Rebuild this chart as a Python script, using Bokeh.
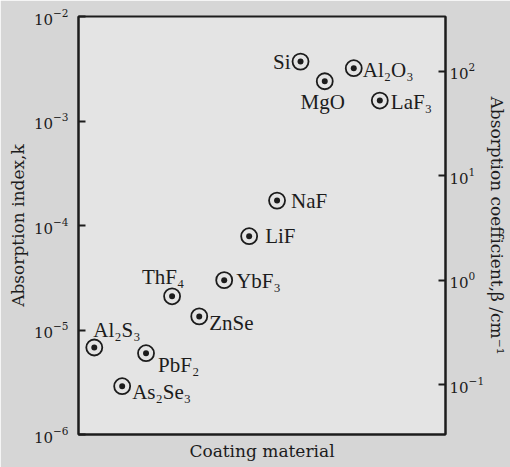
import math
from bokeh.plotting import figure
from bokeh.models import Range1d, LogAxis, FixedTicker, LogScale, ColumnDataSource
from bokeh.embed import file_html
from bokeh.resources import INLINE
from bokeh.core.properties import value

# ---- data ----
materials = ["Si", "Al₂O₃", "MgO", "LaF₃", "NaF", "LiF", "YbF₃",
             "ThF₄", "ZnSe", "Al₂S₃", "PbF₂", "As₂Se₃"]
x_pos = [6.05, 7.50, 6.71, 8.21, 5.41, 4.65, 3.97, 2.55, 3.29, 0.43, 1.84, 1.19]
k_values = [3.7e-3, 3.2e-3, 2.4e-3, 1.57e-3, 1.73e-4, 7.9e-5, 3.0e-5,
            2.1e-5, 1.35e-5, 6.8e-6, 6.0e-6, 2.9e-6]
k_ticks = [1e-6, 1e-5, 1e-4, 1e-3, 1e-2]
beta_ticks = [1e-1, 1e0, 1e1, 1e2]
k_min, k_max = 1e-6, 1e-2
beta_per_k = 10 ** 4.526  # beta = 4*pi*k/lambda

# ---- label layout (screen px offsets, alignment) ----
label_layout = {
    "Si": (-10, 0, "right"),
    "Al₂O₃": (9, 2, "left"),
    "MgO": (-2, 21, "center"),
    "LaF₃": (11, 1, "left"),
    "NaF": (14, 0, "left"),
    "LiF": (16, 0, "left"),
    "YbF₃": (12, 1, "left"),
    "ThF₄": (-9, -19, "center"),
    "ZnSe": (10, 7, "left"),
    "Al₂S₃": (-1, -18, "left"),
    "PbF₂": (12, 12, "left"),
    "As₂Se₃": (10, 6, "left"),
}

INK = "#1c1c1c"
FONT = "Liberation Serif"
VFONT = "DejaVu Serif"

p = figure(width=510, height=467,
           x_range=Range1d(0, 10), y_range=Range1d(k_min, k_max),
           y_axis_type="log", output_backend="svg", toolbar_location=None,
           min_border_left=78, min_border_right=64,
           min_border_top=16, min_border_bottom=33)
p.border_fill_color = "#d6d6d6"
p.background_fill_color = "#e4e4e4"
p.outline_line_color = INK
p.outline_line_width = 2
p.grid.visible = False

p.extra_y_ranges = {"beta": Range1d(k_min * beta_per_k, k_max * beta_per_k)}
p.extra_y_scales = {"beta": LogScale()}
right = LogAxis(y_range_name="beta", ticker=FixedTicker(ticks=beta_ticks))
p.add_layout(right, "right")

left = p.left[0]
left.ticker = FixedTicker(ticks=k_ticks)
left.axis_label = "Absorption index,k"
right.axis_label = "Absorption coefficient,β /cm⁻¹"
right.axis_label_orientation = "vertical"

for ax in (left, right):
    ax.major_tick_in = 7
    ax.major_tick_out = 0
    ax.minor_tick_line_color = None
    ax.major_tick_line_width = 2
    ax.major_tick_line_color = INK
    ax.axis_line_color = INK
    ax.axis_line_width = 2
    ax.major_label_text_font = VFONT
    ax.major_label_text_font_size = "15px"
    ax.major_label_text_color = INK
    ax.axis_label_text_font = VFONT
    ax.axis_label_text_font_size = "17px"
    ax.axis_label_text_font_style = "normal"
    ax.axis_label_text_color = INK
left.major_label_standoff = 10
left.axis_label_standoff = 3
right.major_label_standoff = 4
right.axis_label_standoff = 0

xa = p.below[0]
xa.ticker = FixedTicker(ticks=[])
xa.axis_line_color = INK
xa.axis_line_width = 2
xa.axis_label = "Coating material"
xa.axis_label_text_font = VFONT
xa.axis_label_text_font_size = "17px"
xa.axis_label_text_font_style = "normal"
xa.axis_label_text_color = INK
xa.axis_label_standoff = 6

src = ColumnDataSource(dict(x=x_pos, k=k_values, name=materials))
p.scatter("x", "k", source=src, size=16, marker="circle",
          fill_color=None, line_color=INK, line_width=1.8)
p.scatter("x", "k", source=src, size=6, marker="circle",
          fill_color=INK, line_color=None)

for align in ("left", "right", "center"):
    idx = [i for i, m in enumerate(materials) if label_layout[m][2] == align]
    s = ColumnDataSource(dict(
        x=[x_pos[i] for i in idx], k=[k_values[i] for i in idx],
        name=[materials[i] for i in idx],
        dx=[label_layout[materials[i]][0] for i in idx],
        dy=[label_layout[materials[i]][1] for i in idx]))
    p.text("x", "k", text="name", source=s, x_offset="dx", y_offset="dy",
           text_align=align, text_baseline="middle",
           text_font=value(FONT), text_font_size="21px", text_color=INK)

open("out.html", "w").write(file_html(p, INLINE))
